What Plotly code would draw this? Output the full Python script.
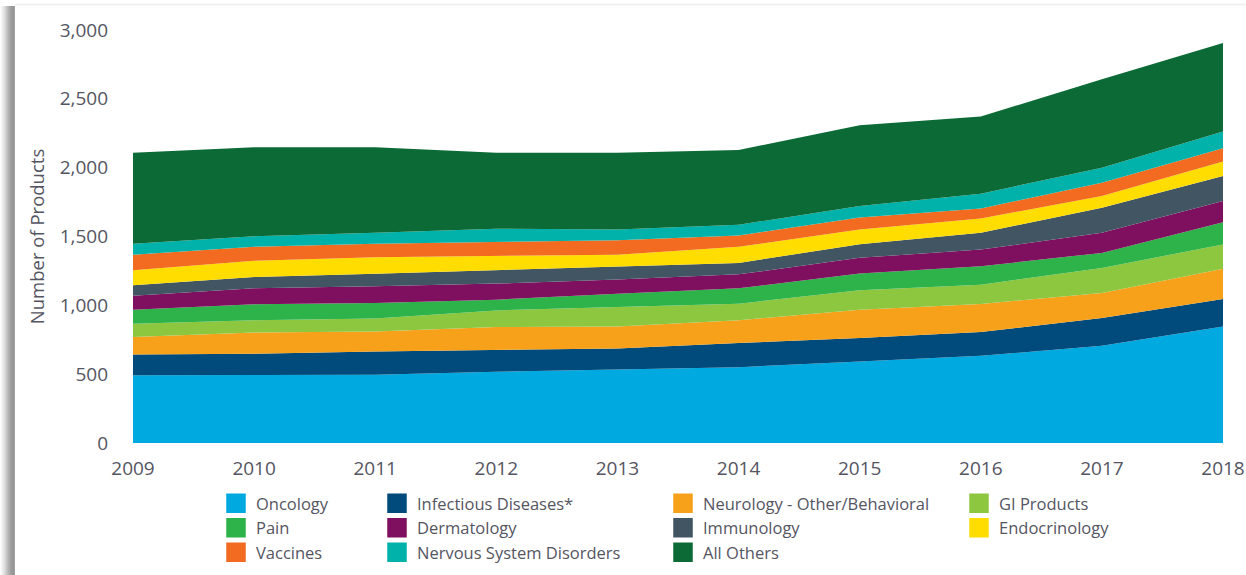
import plotly.graph_objects as go

years = [2009, 2010, 2011, 2012, 2013, 2014, 2015, 2016, 2017, 2018]

oncology = [493, 493, 495, 517, 532, 551, 592, 633, 706, 847]
infectious = [150, 155, 170, 160, 155, 175, 170, 173, 202, 199]
neurology = [127, 155, 145, 165, 160, 165, 206, 204, 182, 219]
gi_products = [96, 88, 95, 121, 141, 121, 141, 140, 182, 177]
pain = [102, 116, 112, 78, 97, 112, 122, 134, 109, 162]
dermatology = [102, 117, 121, 117, 102, 101, 114, 121, 146, 153]
immunology = [75, 82, 92, 97, 97, 83, 99, 122, 182, 182]
endocrinology = [110, 117, 120, 102, 83, 117, 107, 104, 85, 105]
vaccines = [112, 102, 97, 104, 106, 82, 87, 73, 97, 97]
nervous = [80, 77, 80, 95, 78, 78, 83, 107, 109, 121]
all_others = [662, 646, 621, 553, 558, 543, 587, 560, 643, 643]

series_names = ["Oncology", "Infectious Diseases*", "Neurology - Other/Behavioral", "GI Products",
                "Pain", "Dermatology", "Immunology", "Endocrinology",
                "Vaccines", "Nervous System Disorders", "All Others"]
series_values = [oncology, infectious, neurology, gi_products, pain, dermatology,
                 immunology, endocrinology, vaccines, nervous, all_others]
colors = ["#00A9E0", "#004A7C", "#F7A11A", "#8DC63F", "#2DB34A", "#7F0F5F",
          "#425563", "#FFDD00", "#F26B21", "#00B2A9", "#0B6A35"]
legend_ids = ["legend", "legend2", "legend3", "legend4",
              "legend", "legend2", "legend3", "legend4",
              "legend", "legend2", "legend3"]

W, H = 1246, 575
L, R, T, B = 133, 1223, 30, 443

def px(x):
    return (x - L) / (R - L)

def py(y):
    return (B - y) / (B - T)

fig = go.Figure()
for name, vals, col in zip(series_names, series_values, colors):
    fig.add_trace(go.Scatter(
        x=years, y=vals, name=name, stackgroup="one", mode="lines",
        line=dict(width=0, color=col), fillcolor=col, showlegend=False,
        hoverinfo="x+y+name"))

for name, col, lg in zip(series_names, colors, legend_ids):
    fig.add_trace(go.Scatter(
        x=[None], y=[None], mode="markers", name=name,
        marker=dict(symbol="square", size=16, color=col, line=dict(width=3.5, color=col)),
        legend=lg, legendgroup=name, showlegend=True))

FONT = "Open Sans, Lato, sans-serif"
font_col = "#555562"
leg_common = dict(orientation="v", yanchor="top", xanchor="left",
                  font=dict(family=FONT, size=16.5, color=font_col),
                  bgcolor="rgba(0,0,0,0)", tracegroupgap=3.5, itemsizing="trace",
                  traceorder="normal")
legend_x = [216, 377, 663, 959]
leg_y = py(486)

shapes = []
# left shadow gradient
grays = ["#fbfbfb", "#f5f5f5", "#eeeeee", "#e6e6e6", "#dddddd", "#d3d3d3", "#c8c8c8",
         "#bdbdbd", "#b3b3b3", "#aaaaaa", "#a2a2a2", "#9c9c9c", "#989898", "#969696", "#a0a0a0"]
for i, g in enumerate(grays):
    shapes.append(dict(type="rect", xref="paper", yref="paper",
                       x0=px(i), x1=px(i + 1), y0=py(575), y1=py(6),
                       fillcolor=g, line=dict(width=0), layer="below"))
shapes.append(dict(type="line", xref="paper", yref="paper",
                   x0=px(15), x1=px(1246), y0=py(4.5), y1=py(4.5),
                   line=dict(color="#efefef", width=1.5), layer="below"))

fig.update_layout(
    width=W, height=H,
    margin=dict(l=L, r=W - R, t=T, b=H - B, autoexpand=False),
    paper_bgcolor="white", plot_bgcolor="white",
    font=dict(family=FONT, color=font_col),
    xaxis=dict(range=[2009, 2018], tickvals=years, ticktext=[str(y) for y in years],
               showgrid=False, zeroline=False, showline=False, ticks="",
               tickfont=dict(size=19, color=font_col), ticklabelstandoff=12,
               automargin=False),
    yaxis=dict(range=[0, 3000], tickvals=[0, 500, 1000, 1500, 2000, 2500, 3000],
               tickformat=",d", showgrid=False, zeroline=False, showline=False, ticks="",
               tickfont=dict(size=19, color=font_col), ticklabelstandoff=24,
               automargin=False,
               title=dict(text="Number of Products", font=dict(size=18.5, color=font_col), standoff=10)),
    legend=dict(x=px(legend_x[0]), y=leg_y, **leg_common),
    legend2=dict(x=px(legend_x[1]), y=leg_y, **leg_common),
    legend3=dict(x=px(legend_x[2]), y=leg_y, **leg_common),
    legend4=dict(x=px(legend_x[3]), y=leg_y, **leg_common),
    shapes=shapes,
)

fig.write_html("out.html", config={"displayModeBar": False},
               post_script="document.body.style.margin='0px';")
